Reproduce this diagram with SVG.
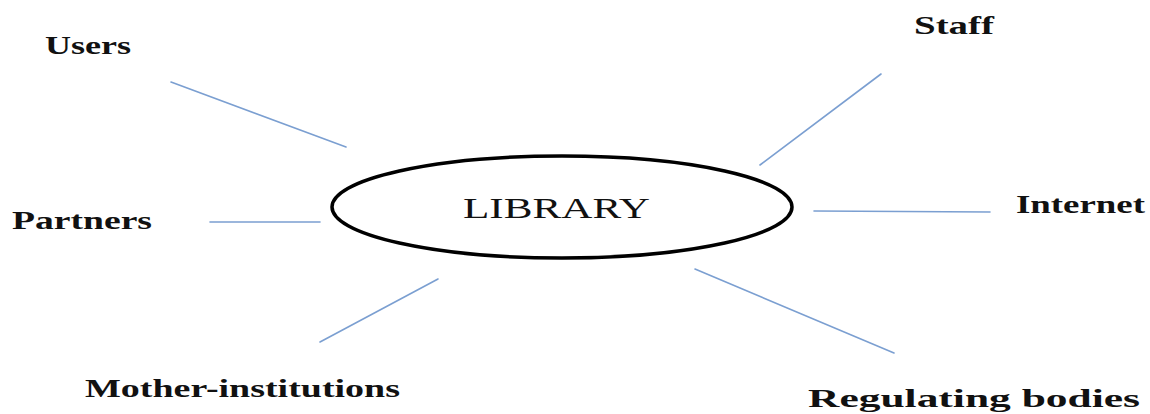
<svg xmlns="http://www.w3.org/2000/svg" width="1150" height="414" viewBox="0 0 1150 414">
  <style>
    .lbl { font-family: "Liberation Serif", "Times New Roman", serif; font-weight: bold; font-size: 25px; fill: #111; }
    .core { font-family: "Liberation Serif", "Times New Roman", serif; font-size: 29px; fill: #111; }
    .link { stroke: #7b9fd1; stroke-width: 1.6; fill: none; stroke-linecap: round; }
  </style>
  <rect width="1150" height="414" fill="#fff"/>

  <g id="connectors">
    <line class="link" x1="171" y1="82" x2="346" y2="147"/>
    <line class="link" x1="760" y1="165" x2="881" y2="74"/>
    <line class="link" x1="814" y1="211" x2="990" y2="212"/>
    <line class="link" x1="210" y1="222" x2="320" y2="222"/>
    <line class="link" x1="320" y1="342" x2="438" y2="279"/>
    <line class="link" x1="695" y1="269" x2="894" y2="353"/>
  </g>

  <g id="library">
    <ellipse cx="562" cy="207" rx="230" ry="51" fill="#fff" stroke="#000" stroke-width="3.5"/>
    <text class="core" x="463" y="218" textLength="187" lengthAdjust="spacingAndGlyphs">LIBRARY</text>
  </g>
  <g id="users">
    <text class="lbl" x="45" y="54" textLength="86" lengthAdjust="spacingAndGlyphs">Users</text>
  </g>
  <g id="staff">
    <text class="lbl" x="914" y="34" textLength="80" lengthAdjust="spacingAndGlyphs">Staff</text>
  </g>
  <g id="internet">
    <text class="lbl" x="1016" y="213" textLength="129" lengthAdjust="spacingAndGlyphs">Internet</text>
  </g>
  <g id="partners">
    <text class="lbl" x="12" y="229" textLength="140" lengthAdjust="spacingAndGlyphs">Partners</text>
  </g>
  <g id="mother-institutions">
    <text class="lbl" x="85" y="397" textLength="315" lengthAdjust="spacingAndGlyphs">Mother-institutions</text>
  </g>
  <g id="regulating-bodies">
    <text class="lbl" x="808" y="407" textLength="332" lengthAdjust="spacingAndGlyphs">Regulating bodies</text>
  </g>
</svg>
